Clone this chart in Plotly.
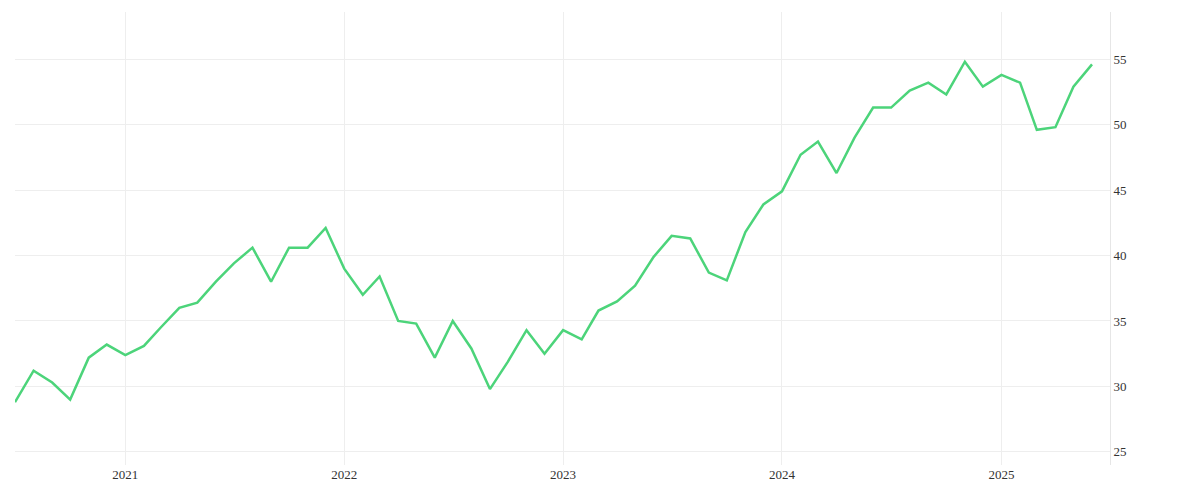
import pandas as pd
import plotly.graph_objects as go

# Monthly values, Jul 2020 - Jun 2025
dates = pd.date_range("2020-07-01", periods=60, freq="MS")
values = [28.8, 31.2, 30.3, 29.0, 32.2, 33.2, 32.4, 33.1, 34.5, 36.0,
          36.4, 38.0, 39.4, 40.6, 38.0, 40.6, 40.6, 42.1, 39.0, 37.0,
          38.4, 35.0, 34.8, 32.2, 35.0, 32.9, 29.8, 31.9, 34.3, 32.5,
          34.3, 33.6, 35.8, 36.5, 37.7, 39.9, 41.5, 41.3, 38.7, 38.1,
          41.8, 43.9, 44.9, 47.7, 48.7, 46.3, 49.0, 51.3, 51.3, 52.6,
          53.2, 52.3, 54.8, 52.9, 53.8, 53.2, 49.6, 49.8, 52.9, 54.6]
y_ticks = [25, 30, 35, 40, 45, 50, 55]

fig = go.Figure()
fig.add_trace(go.Scatter(x=dates, y=values, mode="lines",
                         line=dict(color="#4cd47a", width=2.5)))

fig.update_layout(
    width=1200, height=500,
    margin=dict(l=7, r=98, t=4, b=43),
    plot_bgcolor="white", paper_bgcolor="white",
    showlegend=False,
    font=dict(family="Liberation Serif", size=13, color="#333"),
    xaxis=dict(range=["2020-07-01", "2025-07-01"], showgrid=True,
               gridcolor="#eeeeee", dtick="M12", tick0="2021-01-01",
               tickformat="%Y", ticks="", zeroline=False),
    yaxis=dict(side="right", range=[24, 58.6], tickvals=y_ticks,
               showgrid=True, gridcolor="#eeeeee", zeroline=False,
               showline=True, linecolor="#e6e6e6", ticks=""),
)

fig.write_html("out.html")
